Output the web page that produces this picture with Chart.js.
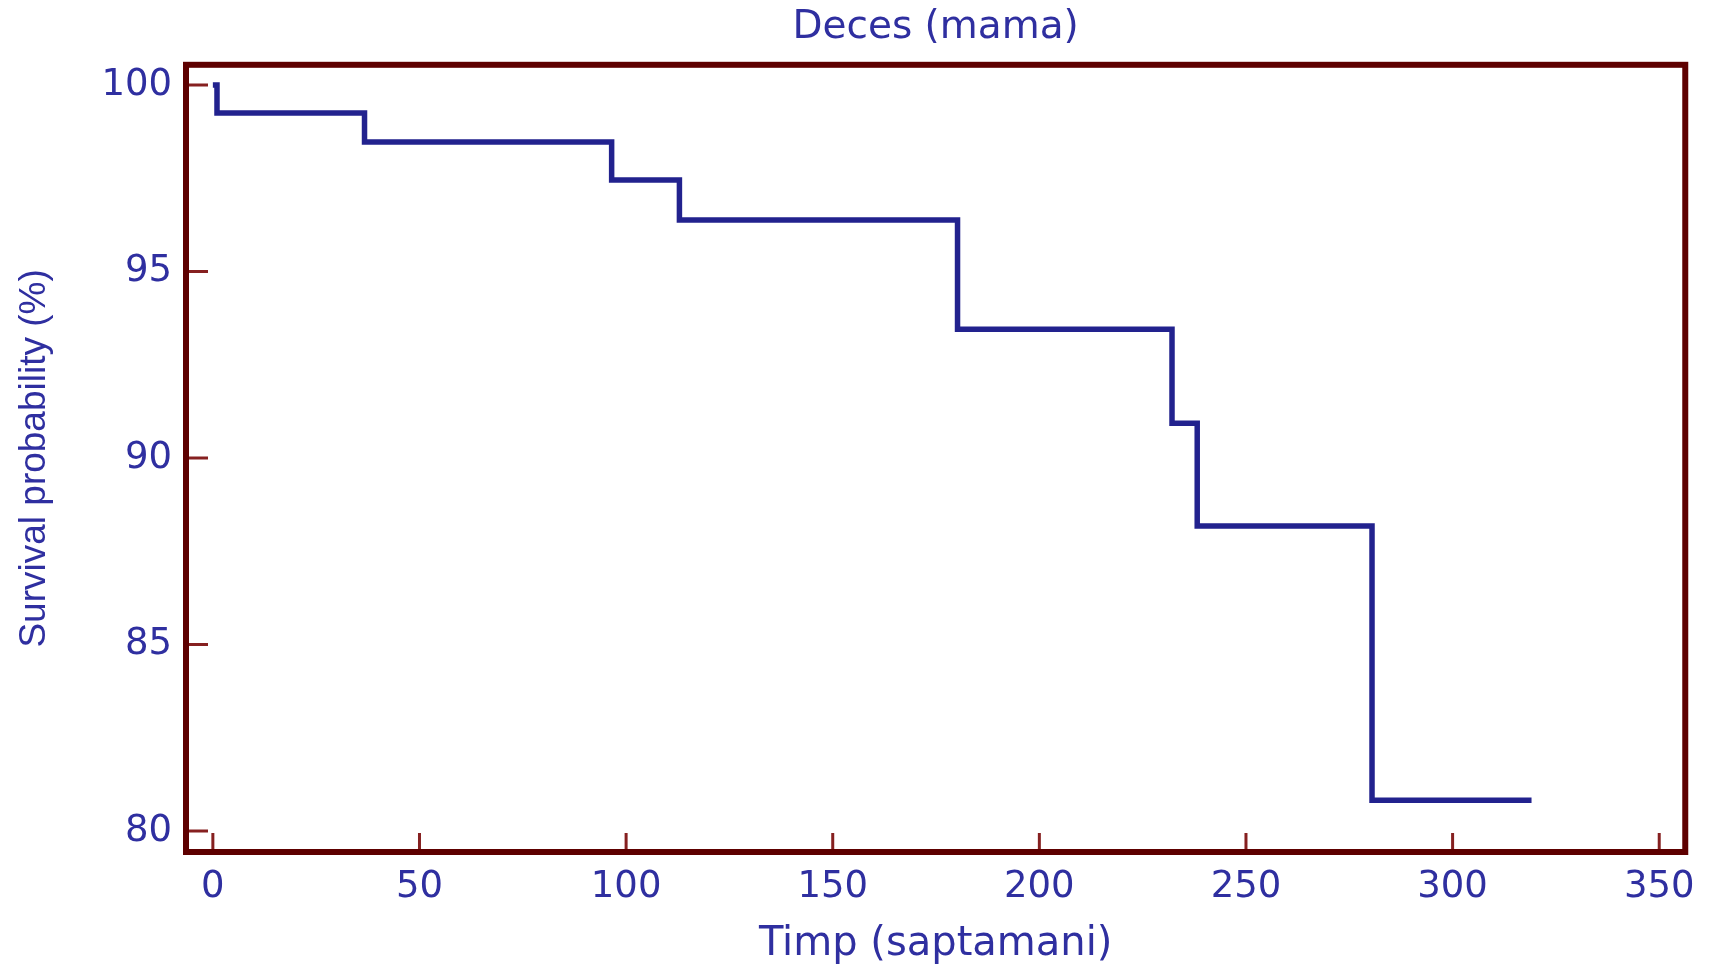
<!DOCTYPE html>
<html>
<head>
<meta charset="utf-8">
<title>Deces (mama)</title>
<script src="https://cdn.jsdelivr.net/npm/chart.js@4.4.1/dist/chart.umd.min.js"></script>
<style>
  html, body { margin: 0; padding: 0; background: #fff; }
  .chart-box { width: 1712px; height: 968px; }
</style>
</head>
<body>
<div class="chart-box"><canvas id="kmChart"></canvas></div>
<script>
// Kaplan-Meier steps
const weeks = [0, 1, 36.7, 96.5, 112.9, 180.2, 232.1, 238.2, 280.5, 319.1];
const survival = [100, 99.25, 98.47, 97.45, 96.38, 93.45, 90.93, 88.18, 80.83, 80.83];
const xTicks = [0, 50, 100, 150, 200, 250, 300, 350];
const yTicks = [80, 85, 90, 95, 100];

const FRAME = '#5e0000';
const TICK = '#862020';
const TEXT = '#2f2fa0';
const LINE = '#22228e';

Chart.defaults.font.family = 'DejaVu Sans';

// dark red box round the plot + the little inward ticks
const framePlugin = {
  id: 'frame',
  afterDraw(chart) {
    const { ctx, chartArea: a, scales } = chart;
    ctx.save();
    ctx.strokeStyle = TICK;
    ctx.lineWidth = 3;
    ctx.beginPath();
    scales.x.ticks.forEach(t => {
      const px = scales.x.getPixelForValue(t.value);
      ctx.moveTo(px, a.bottom);
      ctx.lineTo(px, a.bottom - 19);
    });
    scales.y.ticks.forEach(t => {
      const py = scales.y.getPixelForValue(t.value);
      ctx.moveTo(a.left, py);
      ctx.lineTo(a.left + 22, py);
    });
    ctx.stroke();
    ctx.strokeStyle = FRAME;
    ctx.lineWidth = 6;
    ctx.strokeRect(a.left, a.top, a.right - a.left, a.bottom - a.top);
    ctx.restore();
  }
};

const ctx = document.getElementById('kmChart').getContext('2d');
new Chart(ctx, {
  type: 'line',
  data: {
    datasets: [{
      label: 'Deces (mama)',
      data: weeks.map((w, i) => ({ x: w, y: survival[i] })),
      borderColor: LINE,
      borderWidth: 5.5,
      stepped: true,
      pointRadius: 0,
      fill: false
    }]
  },
  options: {
    responsive: true,
    maintainAspectRatio: false,
    animation: false,
    layout: { padding: { top: 0, right: 25, bottom: 0, left: 0 } },
    plugins: {
      legend: { display: false },
      tooltip: { enabled: false },
      title: {
        display: true,
        fullSize: false, // centre over the plot, not the whole canvas
        text: 'Deces (mama)',
        color: TEXT,
        font: { size: 39, weight: 'normal', lineHeight: 1.2 },
        padding: { top: 4, bottom: 14 }
      }
    },
    scales: {
      x: {
        type: 'linear',
        min: -6.5,
        max: 356.3,
        afterBuildTicks: s => { s.ticks = xTicks.map(v => ({ value: v })); },
        afterFit: s => { s.height = 116; },
        grid: { display: false, drawTicks: false },
        border: { display: false },
        ticks: {
          color: TEXT,
          font: { size: 37, lineHeight: 1 },
          padding: 17,
          autoSkip: false,
          maxRotation: 0
        },
        title: {
          display: true,
          text: 'Timp (saptamani)',
          color: TEXT,
          font: { size: 40, lineHeight: 1 },
          padding: { top: 0, bottom: 3 }
        }
      },
      y: {
        min: 79.44,
        max: 100.54,
        afterBuildTicks: s => { s.ticks = yTicks.map(v => ({ value: v })); },
        afterFit: s => { s.width = 186; },
        grid: { display: false, drawTicks: false },
        border: { display: false },
        ticks: {
          color: TEXT,
          font: { size: 37, lineHeight: 1 },
          padding: 14,
          autoSkip: false
        },
        title: {
          display: true,
          text: 'Survival probability (%)',
          color: TEXT,
          font: { family: 'Liberation Sans', size: 37, lineHeight: 1.2 },
          padding: { top: 13, bottom: 0 }
        }
      }
    }
  },
  plugins: [framePlugin]
});
</script>
</body>
</html>
